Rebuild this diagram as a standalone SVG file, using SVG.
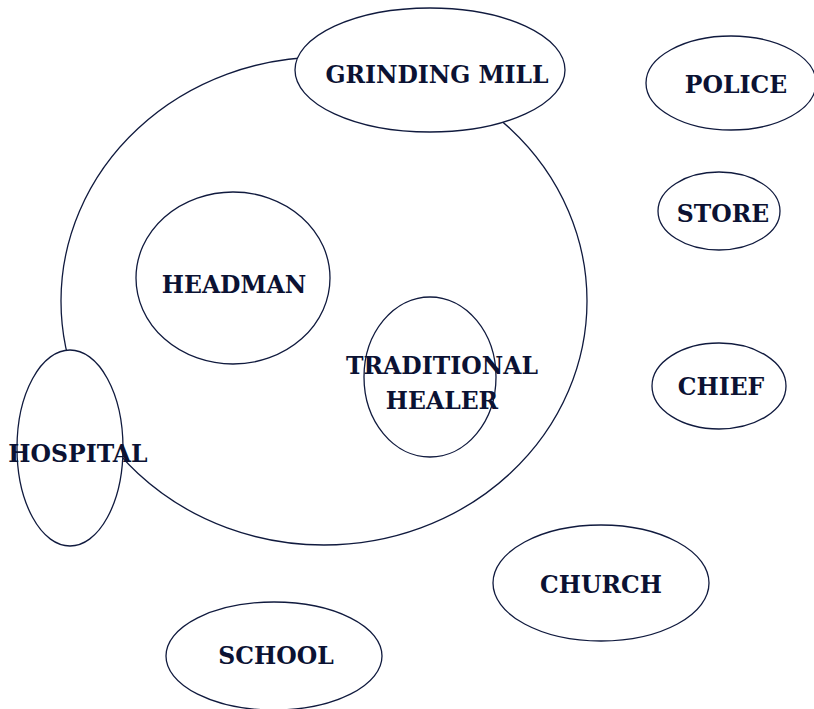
<svg xmlns="http://www.w3.org/2000/svg" width="814" height="709" viewBox="0 0 814 709">
<style>
.n{fill:#ffffff;stroke:#101a3e;stroke-width:1.3}
.h{fill:none;stroke:#101a3e;stroke-width:1.3}
text{font-family:"DejaVu Serif",serif;font-weight:bold;font-size:23.5px;fill:#0b1233;text-anchor:middle}
</style>
<rect width="814" height="709" fill="#ffffff"/>
<g id="village"><ellipse class="h" cx="324" cy="301" rx="263" ry="244"/></g>
<g id="grinding-mill"><ellipse class="n" cx="430" cy="70" rx="135" ry="62"/><text x="437" y="83">GRINDING MILL</text></g>
<g id="hospital"><ellipse class="n" cx="70" cy="448" rx="53" ry="98"/></g>
<g id="headman"><ellipse class="h" cx="233" cy="278" rx="97" ry="86"/><text x="234" y="293">HEADMAN</text></g>
<g id="traditional-healer"><ellipse class="h" cx="430" cy="377" rx="66" ry="80"/><text x="442" y="374">TRADITIONAL</text><text x="442" y="409">HEALER</text></g>
<g id="hospital-label"><text x="78" y="462">HOSPITAL</text></g>
<g id="police"><ellipse class="n" cx="731" cy="83" rx="85" ry="47"/><text x="736" y="93">POLICE</text></g>
<g id="store"><ellipse class="n" cx="719" cy="211" rx="61" ry="39"/><text x="723" y="222">STORE</text></g>
<g id="chief"><ellipse class="n" cx="719" cy="386" rx="67" ry="43"/><text x="721" y="395">CHIEF</text></g>
<g id="church"><ellipse class="n" cx="601" cy="583" rx="108" ry="58"/><text x="601" y="593">CHURCH</text></g>
<g id="school"><ellipse class="n" cx="274" cy="656" rx="108" ry="54"/><text x="276" y="664">SCHOOL</text></g>
<g id="connectors"></g>
</svg>
